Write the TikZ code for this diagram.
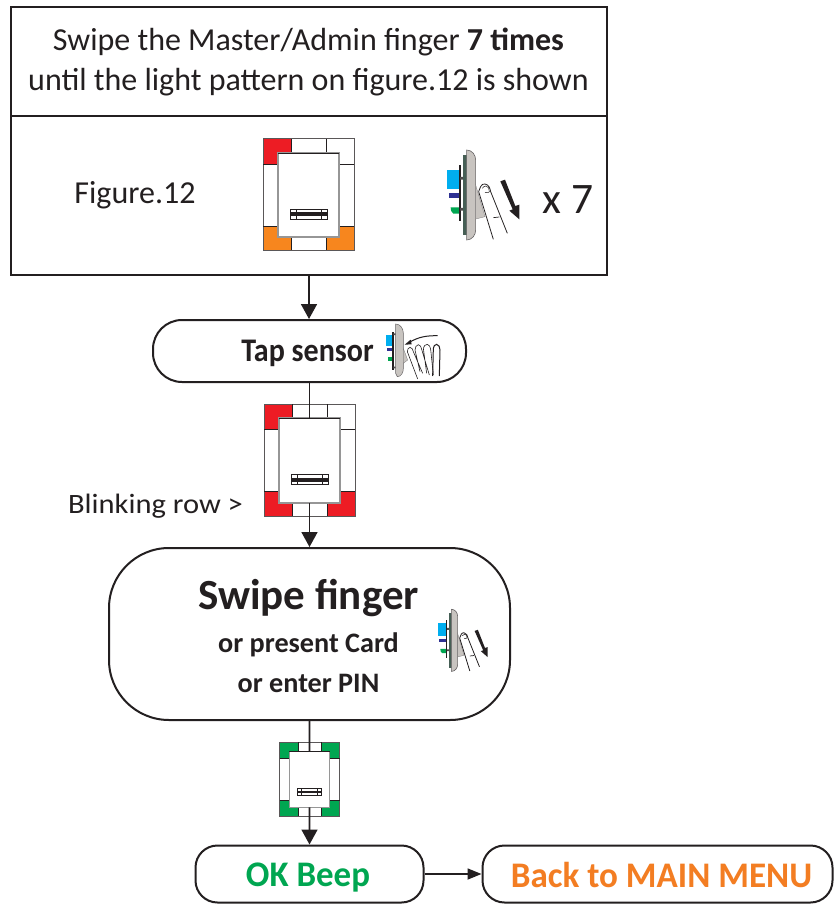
\documentclass[tikz,border=0pt]{standalone}
\usepackage{fontspec}
\setmainfont{Carlito}
\usetikzlibrary{arrows.meta}
\definecolor{ledred}{RGB}{237,28,36}
\definecolor{ledorange}{RGB}{247,134,30}
\definecolor{ledgreen}{RGB}{0,166,81}
\definecolor{okgreen}{RGB}{0,166,81}
\definecolor{backorange}{RGB}{243,125,34}
\definecolor{ink}{RGB}{35,31,32}
\definecolor{devgrey}{RGB}{200,196,192}
\definecolor{frame}{RGB}{150,150,150}
\definecolor{stripgreen}{RGB}{70,95,85}
\definecolor{devcyan}{RGB}{0,174,239}
\definecolor{devblue}{RGB}{46,49,146}
\tikzset{
  flowbox/.style={draw=ink,line width=2pt,fill=white,inner sep=0pt},
  label/.style={inner sep=0pt,text=ink,align=center},
  link/.style={draw=ink,line width=1.7pt,-{Triangle[length=15pt,width=16pt]}},
  plainlink/.style={draw=ink,line width=1.7pt},
}
\newcommand{\ledpanel}[9]{%
\begin{scope}[shift={(#2,#3)},x=#4/91,y=-#5/111]
  \fill[white] (0,0) rectangle (91,111);
  \fill[#6] (0,0) rectangle (28,25);
  \fill[#7] (63,0) rectangle (91,25);
  \fill[#8] (0,87) rectangle (28,111);
  \fill[#9] (63,87) rectangle (91,111);
  \draw[ink!75,line width=1pt] (0,0) rectangle (91,111);
  \draw[ink,line width=.7pt] (28,0) -- (28,14) (63,0) -- (63,14) (28,97) -- (28,111) (63,97) -- (63,111)
     (0,25) -- (15,25) (76,25) -- (91,25) (0,87) -- (15,87) (76,87) -- (91,87);
  \draw[frame,line width=1.4pt,fill=white] (15,14) rectangle (76,98);
  \draw[ink,line width=.7pt] (15,14) -- (76,14);
  \coordinate (#1top) at (45.5,14);
  \coordinate (#1bot) at (45.5,98);
  \fill[white,draw=ink,line width=.8pt] (27,70) rectangle (64,80);
  \fill[ink] (27,73) rectangle (64,77);
  \draw[ink,line width=.5pt] (33,70) -- (33,80) (58,70) -- (58,80);
\end{scope}}
\newcommand{\devicebody}{%
  \fill[devcyan] (621,150) rectangle (657,207);
  \fill[devblue] (627,219) rectangle (657,234);
  \fill[ledgreen] (632,262) -- (660,262) -- (660,281) -- (640,281) to[bend left=30] (632,262);
  \fill[ink] (656,135) rectangle (662,303);
  \fill[ink!80] (660,171) rectangle (675,179) (660,264) rectangle (675,272);
  \fill[stripgreen] (670,104) rectangle (681,346);
  \fill[devgrey,draw=ink!70,line width=.6pt] (680,90) to[out=0,in=90] (707,120) -- (707,330) to[out=-90,in=0] (680,360) -- cycle;
}
\newcommand{\swipeicon}[3]{%
\begin{scope}[shift={(#1,#2)},x=#3,y=-#3]
  \devicebody
  \fill[devgrey,draw=ink!60,line width=.3pt] (707,195) -- (735,290) -- (707,297) -- cycle;
  \draw[ink,line width=.8pt,line join=round] (760,358) -- (716,215) to[out=70,in=170] (735,192) to[out=-10,in=100] (752,215) -- (802,340);
  \draw[ink,line width=.5pt] (727,205) to[out=60,in=180] (738,198) to[out=0,in=90] (748,215) to[out=-90,in=60] (735,218);
  \draw[ink,line width=.7pt] (760,293) -- (778,291);
  \fill[ink] (781,184) -- (795,179) -- (826,258) -- (838,254) -- (838,298) -- (808,272) -- (818,268) -- cycle;
\end{scope}}
\newcommand{\tapicon}{%
\begin{scope}[shift={(370,310)},x=1/3*1pt,y=-1/3*1pt]
  \fill[devcyan] (48,75) rectangle (70,107);
  \fill[devblue] (52,113) rectangle (68,122);
  \fill[ledgreen] (53,140) rectangle (68,152);
  \fill[ink] (67,65) rectangle (72,180);
  \fill[ink!80] (70,70) rectangle (78,75) (70,170) rectangle (78,175);
  \fill[devgrey,draw=ink!70,line width=.5pt] (77,42) to[out=0,in=90] (100,70) -- (100,175) to[out=-90,in=0] (82,200) -- (77,190) -- cycle;
  \fill[devgrey,draw=ink!60,line width=.3pt] (100,115) -- (113,150) -- (100,160) -- cycle;
  \draw[ink,line width=.6pt,line join=round]
    (143,207) -- (112,125) to[out=80,in=180] (120,112) to[out=0,in=110] (130,125) -- (158,190)
    (150,185) -- (135,120) to[out=80,in=180] (145,104) to[out=0,in=110] (155,118) -- (178,195)
    (170,190) -- (160,115) to[out=80,in=180] (172,103) to[out=0,in=110] (182,118) -- (190,195);
  \draw[ink,line width=1pt] (188,198) -- (190,115) to[out=80,in=180] (200,103) to[out=0,in=100] (210,120) -- (208,198);
  \draw[ink,line width=1pt] (203,77) to[out=180,in=30] (118,97);
  \fill[ink] (104,104) -- (122,89) -- (125,103) -- cycle;
\end{scope}}
\begin{document}
\begin{tikzpicture}[x=1pt,y=-1pt]
\useasboundingbox (0,0) rectangle (833,904);
\fill[white] (0,0) rectangle (833,904);

\node[flowbox,minimum width=596pt,minimum height=268pt] (topbox) at (309,141) {};
\coordinate (divL) at (topbox.west |- 0,116);
\coordinate (divR) at (topbox.east |- 0,116);
\draw[ink,line width=2.4pt] (divL) -- (divR);
\node[label,font=\fontsize{32}{40}\selectfont] (title) at (308.5,62) {Swipe the Master/Admin finger \textbf{7 times}\\until the light pattern on figure.12 is shown};
\node[label,font=\fontsize{32}{36}\selectfont] (figlabel) at (135,195) {Figure.12};
\node[label,font=\fontsize{43.5}{48}\selectfont] (times) at (568,200) {x 7};
\ledpanel{pa}{263}{139}{91pt}{111pt}{ledred}{white}{ledorange}{ledorange}
\swipeicon{240}{120}{1/3*1pt}

\node[flowbox,minimum width=313pt,minimum height=62pt,rounded corners=29pt] (tap) at (309.5,351) {};
\node[label,font=\fontsize{33}{36}\selectfont\bfseries] (taptext) at (307.5,353) {\scalebox{.91}[1]{Tap sensor}};
\tapicon

\ledpanel{pb}{264}{404}{91pt}{112pt}{ledred}{white}{ledred}{ledred}
\node[label,font=\fontsize{28}{32}\selectfont] (blink) at (155.5,506) {\scalebox{1.09}[1]{Blinking row >}};

\node[flowbox,minimum width=401pt,minimum height=172pt,rounded corners=60pt] (swipe) at (309.5,634) {};
\node[label,font=\fontsize{43}{48}\selectfont\bfseries] (swipetext) at (308.5,598) {Swipe finger};
\node[label,font=\fontsize{28.2}{40}\selectfont\bfseries] (swipesub) at (308.5,663) {or present Card\\or enter PIN};
\swipeicon{295}{588.6}{0.23pt}

\ledpanel{pc}{279.5}{742}{60pt}{74pt}{ledgreen}{ledgreen}{ledgreen}{ledgreen}

\node[flowbox,minimum width=228pt,minimum height=57pt,rounded corners=22pt] (ok) at (309.5,874) {};
\node[label,font=\fontsize{36}{40}\selectfont\bfseries,text=okgreen] (oktext) at (308,878) {\scalebox{.97}[1]{OK Beep}};
\node[flowbox,minimum width=350pt,minimum height=57pt,rounded corners=22pt] (back) at (657.5,874) {};
\node[label,font=\fontsize{36}{40}\selectfont\bfseries,text=backorange] (backtext) at (661.5,875) {\scalebox{.975}[1]{Back to MAIN MENU}};

\draw[link] (topbox.south) -- (topbox.south |- tap.north);
\draw[plainlink] (tap.south) -- (pbtop);
\draw[link] (pbbot) -- (swipe.north);
\draw[plainlink] (swipe.south) -- (pctop);
\draw[link] (pcbot) -- (ok.north);
\draw[draw=ink,line width=1.7pt,-{Triangle[length=14pt,width=11pt]}] (ok.east) -- (back.west);
\end{tikzpicture}
\end{document}
